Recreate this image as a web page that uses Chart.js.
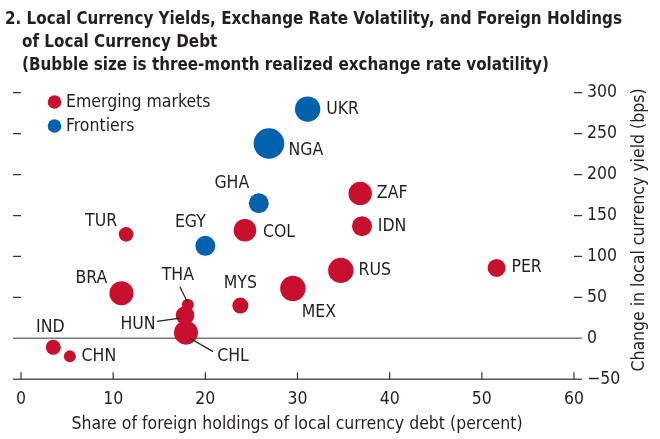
<!DOCTYPE html>
<html>
<head>
<meta charset="utf-8">
<script src="https://cdn.jsdelivr.net/npm/chart.js@4"></script>
<style>
  body{margin:0;background:#fff;}
  #wrap{position:relative;width:660px;height:439px;}
  .tl{position:absolute;transform-origin:0 0;
    font-family:"Liberation Sans Narrow","DejaVu Sans Condensed",sans-serif;font-weight:bold;
    font-size:18.5px;line-height:23px;color:#231f20;white-space:nowrap;}
  canvas{position:absolute;left:0;top:0;}
</style>
</head>
<body>
<div id="wrap">
  <canvas id="myChart" width="660" height="439"></canvas>
  <div class="tl" id="t1" style="left:5px;top:6px">2. Local Currency Yields, Exchange Rate Volatility, and Foreign Holdings</div>
  <div class="tl" style="left:22px;top:29px">of Local Currency Debt</div>
  <div class="tl" style="left:22px;top:52px">(Bubble size is three-month realized exchange rate volatility)</div>
</div>
<script>
// emerging markets
const emCodes=["TUR","BRA","THA","HUN","CHL","IND","CHN","MYS","COL","MEX","RUS","ZAF","IDN","PER"];
const emShare=[11.4,10.9,18.1,17.8,17.9,3.5,5.3,23.8,24.3,29.5,34.7,36.8,37.0,51.6];
const emYield=[127,55,41,28,7,-11,-22,40,132,61,83,177,137,86];
const emVol=[7.3,12,6,9.3,12,7.5,6,8,11.3,12.7,12.7,11.7,10,9];

// frontiers
const frCodes=["UKR","NGA","GHA","EGY"];
const frShare=[31.1,26.9,25.8,20.0];
const frYield=[280,238,165,113];
const frVol=[12.7,15.3,10,10];

const xTicks=[0,10,20,30,40,50,60];
const yTicks=[-50,0,50,100,150,200,250,300];

const red="#c8102e";
const blue="#0062ad";
const ink="#231f20";
const font='"Liberation Sans Narrow","DejaVu Sans Condensed",sans-serif';
const volToPx=1;

// squeeze the title lines to the width of the original (first line ends near x=622)
const t1=document.getElementById("t1");
const squeeze=Math.min(1,617/t1.getBoundingClientRect().width);
document.querySelectorAll(".tl").forEach(el=>{el.style.transform="scaleX("+squeeze+")"});

// where each label sits relative to its bubble (text centre), plus leader lines
const labelPos={
  TUR:[-25,-13],BRA:[-30,-15],THA:[-10,-29],HUN:[-47,9],CHL:[47,24],IND:[-3,-20],CHN:[29,0],
  MYS:[0,-22],COL:[34,2],MEX:[26,24],RUS:[34,0],ZAF:[32,0],IDN:[30,0],PER:[30,0],
  UKR:[35,0],NGA:[37,7],GHA:[-27,-20],EGY:[-15,-23]
};
const leaders={
  THA:[-8,-18,0,-2],
  HUN:[-28,6,-5,2.6],
  CHL:[4,5.6,27,19]
};

function points(share,yld,vol,codes){
  return share.map((v,i)=>({x:v,y:yld[i],r:vol[i]*volToPx,code:codes[i]}));
}

const axesPlugin={
  id:"axesPlugin",
  beforeDatasetsDraw(chart){
    const ctx=chart.ctx;
    const xs=chart.scales.x, ys=chart.scales.y;
    const left=xs.left, right=xs.right;
    ctx.save();
    // zero line
    ctx.strokeStyle="#7a7a7a";
    ctx.lineWidth=1.5;
    ctx.beginPath();
    ctx.moveTo(left-8,ys.getPixelForValue(0));
    ctx.lineTo(right+8,ys.getPixelForValue(0));
    ctx.stroke();
    // bottom line
    const yb=ys.getPixelForValue(-50);
    ctx.strokeStyle="#555";
    ctx.beginPath();
    ctx.moveTo(left-8,yb);
    ctx.lineTo(right+8,yb);
    ctx.stroke();
    ctx.lineWidth=1.2;
    ctx.strokeStyle="#333";
    xTicks.forEach(t=>{
      const px=xs.getPixelForValue(t);
      ctx.beginPath();
      ctx.moveTo(px,yb);
      ctx.lineTo(px,yb-7);
      ctx.stroke();
    });
    yTicks.forEach(t=>{
      if(t<=0) return;
      const py=ys.getPixelForValue(t);
      ctx.beginPath();
      ctx.moveTo(left-8,py);ctx.lineTo(left,py);
      ctx.moveTo(right,py);ctx.lineTo(right+8,py);
      ctx.stroke();
    });
    // tick labels
    ctx.fillStyle=ink;
    ctx.font="17.5px "+font;
    ctx.textAlign="center";
    ctx.textBaseline="middle";
    xTicks.forEach(t=>{
      ctx.fillText(String(t),xs.getPixelForValue(t),yb+20);
    });
    ctx.textAlign="left";
    yTicks.forEach(t=>{
      ctx.fillText(t<0?"\u2212"+Math.abs(t):String(t),right+13,ys.getPixelForValue(t));
    });
    // axis titles
    ctx.textAlign="center";
    ctx.fillText("Share of foreign holdings of local currency debt (percent)",297,yb+45);
    ctx.save();
    ctx.translate(639,(ys.top+ys.bottom)/2-6);
    ctx.rotate(-Math.PI/2);
    ctx.fillText("Change in local currency yield (bps)",0,0);
    ctx.restore();
    // legend
    ctx.textAlign="left";
    ctx.fillStyle=red;
    ctx.beginPath();ctx.arc(54.5,102,6.8,0,Math.PI*2);ctx.fill();
    ctx.fillStyle=blue;
    ctx.beginPath();ctx.arc(54.5,126,6.8,0,Math.PI*2);ctx.fill();
    ctx.fillStyle=ink;
    ctx.fillText("Emerging markets",66,102);
    ctx.fillText("Frontiers",66,126);
    ctx.restore();
  },
  afterDatasetsDraw(chart){
    const ctx=chart.ctx;
    ctx.save();
    ctx.font="17.5px "+font;
    ctx.fillStyle=ink;
    ctx.strokeStyle=ink;
    ctx.lineWidth=1.3;
    ctx.textAlign="center";
    ctx.textBaseline="middle";
    chart.data.datasets.forEach((ds,di)=>{
      const meta=chart.getDatasetMeta(di);
      meta.data.forEach((el,i)=>{
        const code=ds.data[i].code;
        const off=labelPos[code]||[0,0];
        ctx.fillText(code,el.x+off[0],el.y+off[1]);
        const ld=leaders[code];
        if(ld){
          ctx.beginPath();
          ctx.moveTo(el.x+ld[0],el.y+ld[1]);
          ctx.lineTo(el.x+ld[2],el.y+ld[3]);
          ctx.stroke();
        }
      });
    });
    ctx.restore();
  }
};

new Chart("myChart",{
  type:"bubble",
  data:{
    datasets:[
      {label:"Emerging markets",data:points(emShare,emYield,emVol,emCodes),backgroundColor:red,borderWidth:0},
      {label:"Frontiers",data:points(frShare,frYield,frVol,frCodes),backgroundColor:blue,borderWidth:0}
    ]
  },
  options:{
    responsive:false,
    animation:false,
    layout:{padding:{left:21,right:86,top:92.7,bottom:59.7}},
    plugins:{legend:{display:false},tooltip:{enabled:false},title:{display:false}},
    scales:{
      x:{type:"linear",min:0,max:60,display:false},
      y:{type:"linear",min:-50,max:300,display:false}
    }
  },
  plugins:[axesPlugin]
});
</script>
</body>
</html>
